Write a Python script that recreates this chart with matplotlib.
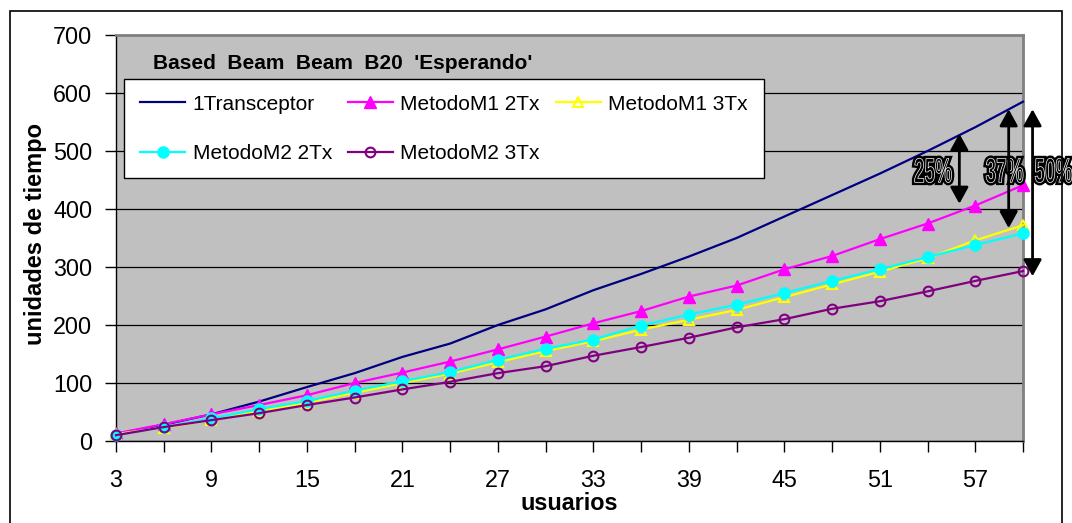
import matplotlib
matplotlib.use("Agg")
import matplotlib.pyplot as plt
from matplotlib.textpath import TextPath
from matplotlib.patches import PathPatch, Rectangle
from matplotlib.font_manager import FontProperties
from matplotlib.transforms import Affine2D, ScaledTranslation

plt.rcParams['font.family'] = ['Liberation Sans', 'DejaVu Sans']

# Data
usuarios = list(range(3, 61, 3))
transceptor = [12, 28, 46, 68, 93, 117, 145, 168, 200, 227,
               260, 288, 318, 350, 387, 424, 461, 500, 541, 585]
m1_2tx = [13, 29, 46, 62, 79, 100, 118, 137, 158, 180,
          203, 224, 249, 268, 296, 319, 348, 375, 406, 441]
m1_3tx = [12, 23, 36, 52, 66, 83, 100, 116, 136, 155,
          172, 192, 209, 226, 248, 270, 292, 315, 346, 372]
m2_2tx = [10, 24, 39, 55, 69, 87, 103, 119, 140, 159,
          175, 199, 218, 235, 255, 276, 296, 317, 338, 358]
m2_3tx = [10, 24, 36, 48, 62, 75, 89, 102, 117, 129,
          147, 162, 178, 196, 210, 228, 241, 258, 276, 293]

# percentage brackets: (label, x, y_top, y_bottom, label_x)
brackets = [
    ('25%', 56.0, 530, 409, 53.15),
    ('37%', 59.1, 572, 367, 57.65),
    ('50%', 60.6, 572, 284, 60.72),
]


def stretched_text(ax, x, y, s, w_px, h_px):
    """Draws a narrow, tall, outlined label like the Word-art text."""
    prop = FontProperties(family='Liberation Sans', weight='bold')
    tp = TextPath((0, 0), s, size=1, prop=prop)
    tr = Affine2D().scale(w_px, h_px) + ScaledTranslation(x, y, ax.transData)
    ax.add_artist(PathPatch(tp, transform=tr, facecolor='black',
                            edgecolor='black', lw=4, clip_on=False, zorder=6))
    ax.add_artist(PathPatch(tp, transform=tr, facecolor='none',
                            edgecolor='white', lw=0.5, clip_on=False, zorder=7))


fig = plt.figure(figsize=(10.72, 5.23), dpi=100)
ax = fig.add_axes([116 / 1072, 82 / 523, 907 / 1072, 406 / 523])
ax.set_facecolor('#C0C0C0')

# Series
l_tr, = ax.plot(usuarios, transceptor, color='#000080', lw=1.6,
                label='1Transceptor', clip_on=False, zorder=3)
l_m12, = ax.plot(usuarios, m1_2tx, color='#FF00FF', lw=1.6, marker='^',
                 ms=8.5, label='MetodoM1 2Tx', clip_on=False, zorder=3)
l_m13, = ax.plot(usuarios, m1_3tx, color='#FFFF00', lw=1.6, marker='^',
                 ms=7.5, mfc='none', mew=1.5, label='MetodoM1 3Tx',
                 clip_on=False, zorder=3)
l_m22, = ax.plot(usuarios, m2_2tx, color='#00FFFF', lw=1.6, marker='o',
                 ms=8, label='MetodoM2 2Tx', clip_on=False, zorder=3)
l_m23, = ax.plot(usuarios, m2_3tx, color='#800080', lw=1.6, marker='o',
                 ms=7, mfc='none', mew=1.5, label='MetodoM2 3Tx',
                 clip_on=False, zorder=3)

# Axes
ax.set_xlim(3, 60)
ax.set_ylim(0, 700)
ax.set_xticks(usuarios)
ax.set_xticklabels([str(u) if i % 2 == 0 else '' for i, u in enumerate(usuarios)])
ax.set_yticks(range(0, 701, 100))
ax.tick_params(axis='both', direction='out', length=8, width=1,
               labelsize=16.8, color='black')
ax.tick_params(axis='x', pad=12)
ax.tick_params(axis='y', pad=9)
ax.grid(axis='y', color='black', lw=0.9)
ax.set_axisbelow(True)
for side in ('left', 'bottom'):
    ax.spines[side].set_color('black')
    ax.spines[side].set_linewidth(1.0)
for side in ('top', 'right'):
    ax.spines[side].set_color('#808080')
    ax.spines[side].set_linewidth(2.0)

ax.set_xlabel('usuarios', fontsize=16.8, fontweight='bold')
ax.xaxis.set_label_coords(0.5, -0.125)
ax.set_ylabel('unidades de tiempo', fontsize=17, fontweight='bold')
ax.yaxis.set_label_coords(-0.076, 0.51)

ax.text(0.0408, 0.931, "Based  Beam  Beam  B20  'Esperando'", transform=ax.transAxes,
        fontsize=15, fontweight='bold', va='center', ha='left')

leg = ax.legend(handles=[l_tr, l_m22, l_m12, l_m23, l_m13], ncol=3,
                loc='upper left', bbox_to_anchor=(124 / 1072, 1 - 79 / 523),
                bbox_transform=fig.transFigure, borderaxespad=0, fontsize=15,
                fancybox=False, edgecolor='black', framealpha=1,
                handlelength=2.2, handletextpad=0.34, columnspacing=0.75,
                labelspacing=1.45, borderpad=0.75)
leg.get_frame().set_linewidth(1.0)
leg.set_zorder(5)

# Percentage brackets
for label, x, y_top, y_bot, lx in brackets:
    ax.annotate('', xy=(x, y_top), xytext=(x, y_bot),
                arrowprops=dict(arrowstyle='<|-|>,head_length=1.0,head_width=0.55',
                                mutation_scale=10, lw=2, color='black',
                                shrinkA=0, shrinkB=0),
                annotation_clip=False, zorder=8)
    stretched_text(ax, lx, 446, label, 19, 34.5)

# Outer chart border
fig.add_artist(Rectangle((10 / 1072, -0.1), 1052 / 1072, 1 - 11 / 523 + 0.1,
                         transform=fig.transFigure, fill=False,
                         edgecolor='black', lw=1.2))

fig.savefig('out.png', dpi=100)
